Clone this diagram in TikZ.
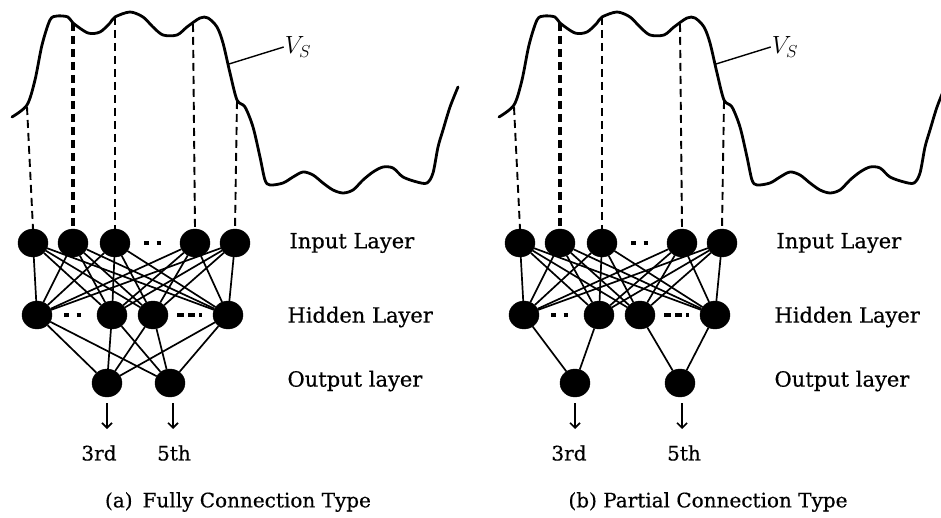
\documentclass[tikz,border=0pt]{standalone}
\usepackage{fontspec}
\setmainfont{DejaVu Serif}
\newfontfamily\lblfont[FakeBold=0.5]{DejaVu Serif}
\usetikzlibrary{arrows.meta,shapes.geometric}
\begin{document}
\begin{tikzpicture}[x=1pt,y=-1pt,
  neuron/.style={ellipse,fill=black,draw=black,minimum width=30pt,minimum height=28pt,inner sep=0pt},
  wave/.style={line width=2.8pt,line join=round,line cap=round},
  conn/.style={line width=1.7pt},
  vdash/.style={line width=1.9pt,dash pattern=on 8pt off 5pt},
  lbl/.style={anchor=west,font=\lblfont\fontsize{21}{24}\selectfont},
  captxt/.style={font=\lblfont\fontsize{20}{24}\selectfont},
  dots/.style={line width=4.5pt,dash pattern=on 4.5pt off 8pt},
  outarrow/.style={line width=1.6pt,-{Straight Barb[length=5pt,width=10pt]}}]
\useasboundingbox (0,0) rectangle (941,518);
\foreach \p/\dx in {a/0,b/487}{
\begin{scope}[xshift=\dx pt]
  % waveform
  \draw[wave] plot[smooth,tension=0.5] coordinates {(12,117) (27,105) (35,80) (42,45) (50,20) (57,16) (68,17) (73,23) (88,33) (100,32) (110,23) (115,17) (130,12) (143,17) (153,27) (163,35) (177,35) (187,27) (200,18) (208,18) (217,27) (223,43) (230,73) (237,100) (245,107) (253,127) (260,157) (265,180) (270,185) (283,183) (293,177) (303,172) (313,175) (323,183) (333,190) (343,193) (353,190) (363,180) (373,172) (383,167) (393,168) (403,177) (417,182) (427,183) (433,173) (438,147) (443,130) (450,107) (458,87)};
  % V_S label
  \node[font=\fontsize{27}{30}\selectfont,inner sep=1pt] (\p vs) at (298,47) {$V_S$};
  \coordinate (\p vsfoot) at (229,64);
  \draw[line width=1.4pt] (\p vsfoot) -- (\p vs.west);
  % input nodes
  \node[neuron] (\p i1) at (33,243) {};
  \node[neuron] (\p i2) at (73,243) {};
  \node[neuron] (\p i3) at (115,243) {};
  \node[neuron] (\p i4) at (195,243) {};
  \node[neuron] (\p i5) at (235,243) {};
  % sample points on curve
  \coordinate (\p t1) at (27,107);
  \coordinate (\p t2) at (73,23);
  \coordinate (\p t3) at (115,17);
  \coordinate (\p t4) at (193,24);
  \coordinate (\p t5) at (237,101);
  \draw[vdash] (\p t1) -- (\p i1.north);
  \draw[vdash,line width=3.2pt] (\p t2) -- (\p i2.north);
  \draw[vdash] (\p t3) -- (\p i3.north);
  \draw[vdash] (\p t4) -- (\p i4.north);
  \draw[vdash] (\p t5) -- (\p i5.north);
  % hidden nodes
  \node[neuron] (\p h1) at (37,315) {};
  \node[neuron] (\p h2) at (112,315) {};
  \node[neuron] (\p h3) at (153,315) {};
  \node[neuron] (\p h4) at (228,315) {};
  % dots
  \draw[dots] (\p i3.east) ++(14pt,0) coordinate (\p d1) -- ++(20pt,0) coordinate (\p d2);
  \draw[dots] (\p h1.east) ++(12pt,0) coordinate (\p d3) -- ++(20pt,0) coordinate (\p d4);
  \draw[line width=4.5pt,dash pattern=on 7pt off 4pt] (\p h3.east) ++(9pt,0) coordinate (\p d5) -- ++(25pt,0) coordinate (\p d6);
  % input to hidden full connections
  \foreach \i in {1,...,5}{
    \foreach \h in {1,...,4}{
      \draw[conn] (\p i\i) -- (\p h\h);
    }
  }
  % labels
  \node[lbl] (\p lin) at (286,243) {Input Layer};
  \node[lbl] (\p lhid) at (284,317) {Hidden Layer};
  \node[lbl] (\p lout) at (284,381) {Output layer};
\end{scope}
}
% left outputs (fully connected)
\node[neuron] (ao1) at (107,383) {};
\node[neuron] (ao2) at (170,383) {};
\foreach \h in {1,...,4}{
  \draw[conn] (ah\h) -- (ao1);
  \draw[conn] (ah\h) -- (ao2);
}
% right outputs (partial)
\node[neuron] (bo1) at (575,383) {};
\node[neuron] (bo2) at (680,383) {};
\draw[conn] (bh1) -- (bo1);
\draw[conn] (bh2) -- (bo1);
\draw[conn] (bh3) -- (bo2);
\draw[conn] (bh4) -- (bo2);
% arrows and harmonic labels
\node[captxt] (a3rd) at (99,453) {3rd};
\node[captxt] (a5th) at (174,453) {5th};
\node[captxt] (b3rd) at (569,453) {3rd};
\node[captxt] (b5th) at (684,453) {5th};
\coordinate (aa1) at (107,403); \coordinate (ab1) at (107,429);
\coordinate (aa2) at (173,403); \coordinate (ab2) at (173,429);
\coordinate (ba1) at (575,403); \coordinate (bb1) at (575,429);
\coordinate (ba2) at (682,403); \coordinate (bb2) at (682,429);
\draw[outarrow] (aa1) -- (ab1);
\draw[outarrow] (aa2) -- (ab2);
\draw[outarrow] (ba1) -- (bb1);
\draw[outarrow] (ba2) -- (bb2);
% captions
\node[captxt] (capa) at (238,502) {(a)\enspace Fully Connection Type};
\node[captxt] (capb) at (708,502) {(b) Partial Connection Type};
\end{tikzpicture}
\end{document}
